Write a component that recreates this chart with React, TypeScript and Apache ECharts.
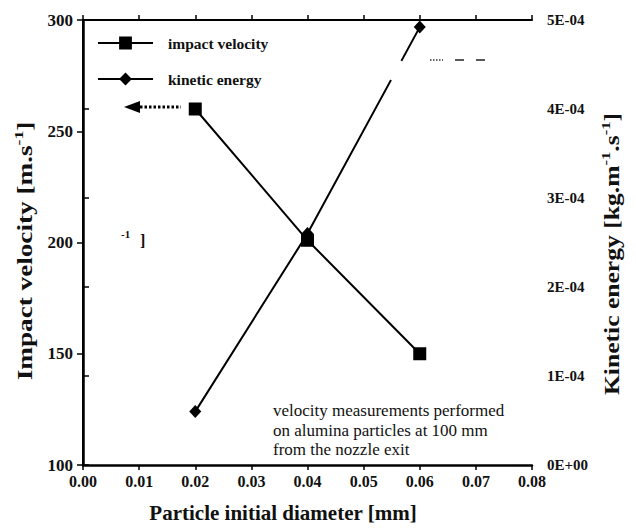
import React, { useEffect, useRef } from "react";
import * as echarts from "echarts";

const diameters = [0.02, 0.04, 0.06];
const impactVelocity = [260, 201, 150];
const kineticEnergy = [0.6e-4, 2.6e-4, 4.92e-4];
const xTicks = { min: 0, max: 0.08, interval: 0.01 };
const leftTicks = { min: 100, max: 300, interval: 50 };
const rightTicks = { min: 0, max: 5e-4, interval: 1e-4 };
const seriesNames = ["impact velocity", "kinetic energy"];

const SERIF = "Liberation Serif";

export default function App() {
  const ref = useRef<HTMLDivElement>(null);
  useEffect(() => {
    if (!ref.current) return;
    const chart = echarts.init(ref.current, null, { renderer: "svg" });
    const axisLine = { show: true, lineStyle: { color: "#000", width: 2 } };
    const axisTick = { show: true, inside: false, length: 5, lineStyle: { color: "#000", width: 1.5 } };
    const option: any = {
      animation: false,
      backgroundColor: "#fff",
      textStyle: { fontFamily: SERIF },
      grid: { left: 83, right: 104, top: 20, bottom: 63, containLabel: false },
      legend: {
        orient: "vertical",
        left: 97,
        top: 35,
        padding: 0,
        itemWidth: 55,
        itemHeight: 16,
        itemGap: 20,
        data: seriesNames,
        textStyle: { fontFamily: SERIF, fontSize: 15.5, fontWeight: "bold", color: "#111", padding: [0, 0, 0, 10] },
      },
      xAxis: [
        {
          type: "value",
          position: "bottom",
          min: xTicks.min,
          max: xTicks.max,
          interval: xTicks.interval,
          axisLine: { ...axisLine, lineStyle: { color: "#000", width: 2.5 } },
          axisTick,
          splitLine: { show: false },
          axisLabel: {
            margin: 8,
            formatter: (v: number) => v.toFixed(2),
            fontFamily: SERIF,
            fontSize: 16,
            fontWeight: "bold",
            color: "#111",
          },
        },
        {
          type: "value",
          position: "top",
          min: xTicks.min,
          max: xTicks.max,
          interval: xTicks.interval,
          axisLine,
          axisTick,
          splitLine: { show: false },
          axisLabel: { show: false },
        },
      ],
      yAxis: [
        {
          type: "value",
          position: "left",
          min: leftTicks.min,
          max: leftTicks.max,
          interval: leftTicks.interval,
          axisLine: { ...axisLine, lineStyle: { color: "#000", width: 2.5 } },
          axisTick: { ...axisTick, length: 6 },
          splitLine: { show: false },
          axisLabel: { margin: 10, fontFamily: SERIF, fontSize: 17, fontWeight: "bold", color: "#111" },
        },
        {
          type: "value",
          position: "right",
          min: rightTicks.min,
          max: rightTicks.max,
          interval: rightTicks.interval,
          axisLine,
          axisTick: { ...axisTick, length: 6 },
          splitLine: { show: false },
          axisLabel: {
            margin: 15,
            fontFamily: SERIF,
            fontSize: 15,
            fontWeight: "bold",
            color: "#111",
            formatter: (v: number) => {
              const n = Math.round(v * 1e4);
              return n === 0 ? "0E+00" : n + "E-04";
            },
          },
        },
      ],
      series: [
        {
          name: seriesNames[0],
          type: "line",
          xAxisIndex: 0,
          yAxisIndex: 0,
          data: diameters.map((d, i) => [d, impactVelocity[i]]),
          symbol: "rect",
          symbolSize: 13,
          lineStyle: { color: "#000", width: 2 },
          itemStyle: { color: "#000" },
        },
        {
          name: seriesNames[1],
          type: "line",
          xAxisIndex: 0,
          yAxisIndex: 1,
          data: diameters.map((d, i) => [d, kineticEnergy[i]]),
          symbol: "diamond",
          symbolSize: [12, 13],
          lineStyle: { color: "#000", width: 2 },
          itemStyle: { color: "#000" },
        },
      ],
      graphic: [
        {
          type: "text",
          x: 25,
          y: 251,
          rotation: Math.PI / 2,
          scaleX: 1.36,
          style: {
            text: "{t|Impact velocity [m.s}{s|-1}{t|]}",
            align: "center",
            verticalAlign: "middle",
            fill: "#111",
            rich: {
              t: { fontFamily: SERIF, fontSize: 20, fontWeight: "bold", lineHeight: 26, fill: "#111" },
              s: { fontFamily: SERIF, fontSize: 13, fontWeight: "bold", verticalAlign: "top", fill: "#111" },
            },
          },
        },
        {
          type: "text",
          x: 612,
          y: 254,
          rotation: Math.PI / 2,
          scaleX: 1.28,
          style: {
            text: "{t|Kinetic energy [kg.m}{s|-1}{t|.s}{s|-1}{t|]}",
            align: "center",
            verticalAlign: "middle",
            fill: "#111",
            rich: {
              t: { fontFamily: SERIF, fontSize: 20, fontWeight: "bold", lineHeight: 26, fill: "#111" },
              s: { fontFamily: SERIF, fontSize: 13, fontWeight: "bold", verticalAlign: "top", fill: "#111" },
            },
          },
        },
        {
          type: "text",
          x: 283,
          y: 513,
          style: {
            text: "Particle initial diameter [mm]",
            align: "center",
            verticalAlign: "middle",
            fontFamily: SERIF,
            fontSize: 21,
            fontWeight: "bold",
            fill: "#111",
          },
        },
        {
          type: "text",
          x: 273,
          y: 401,
          style: {
            text: "velocity measurements performed\non alumina particles at 100 mm\nfrom the nozzle exit",
            fontFamily: SERIF,
            fontSize: 17,
            lineHeight: 19.5,
            fill: "#111",
          },
        },
        {
          type: "polygon",
          z: 10,
          shape: { points: [[124, 107], [140, 101], [140, 113]] },
          style: { fill: "#000" },
        },
        {
          type: "line",
          z: 10,
          shape: { x1: 140, y1: 107, x2: 181, y2: 107 },
          style: { stroke: "#000", lineWidth: 3, lineDash: [2.5, 2] },
        },
        {
          type: "line",
          z: 10,
          shape: { x1: 401.5, y1: 61, x2: 391, y2: 80 },
          style: { stroke: "#fff", lineWidth: 5 },
        },
        {
          type: "line",
          z: 10,
          shape: { x1: 430, y1: 60, x2: 443, y2: 60 },
          style: { stroke: "#333", lineWidth: 1.5, lineDash: [1.5, 1.5] },
        },
        {
          type: "line",
          z: 10,
          shape: { x1: 455, y1: 60, x2: 464, y2: 60 },
          style: { stroke: "#222", lineWidth: 1.5 },
        },
        {
          type: "line",
          z: 10,
          shape: { x1: 476, y1: 60, x2: 485, y2: 60 },
          style: { stroke: "#222", lineWidth: 1.5 },
        },
        {
          type: "text",
          x: 121,
          y: 228,
          style: { text: "-1", fontFamily: SERIF, fontSize: 11, fontWeight: "bold", fill: "#111" },
        },
        {
          type: "text",
          x: 140,
          y: 232,
          style: { text: "]", fontFamily: SERIF, fontSize: 16, fontWeight: "bold", fill: "#111" },
        },
      ],
    };
    chart.setOption(option);
    return () => chart.dispose();
  }, []);
  return (
    <div
      ref={ref}
      style={{ position: "absolute", left: 0, top: 0, width: 636, height: 528 }}
    />
  );
}
